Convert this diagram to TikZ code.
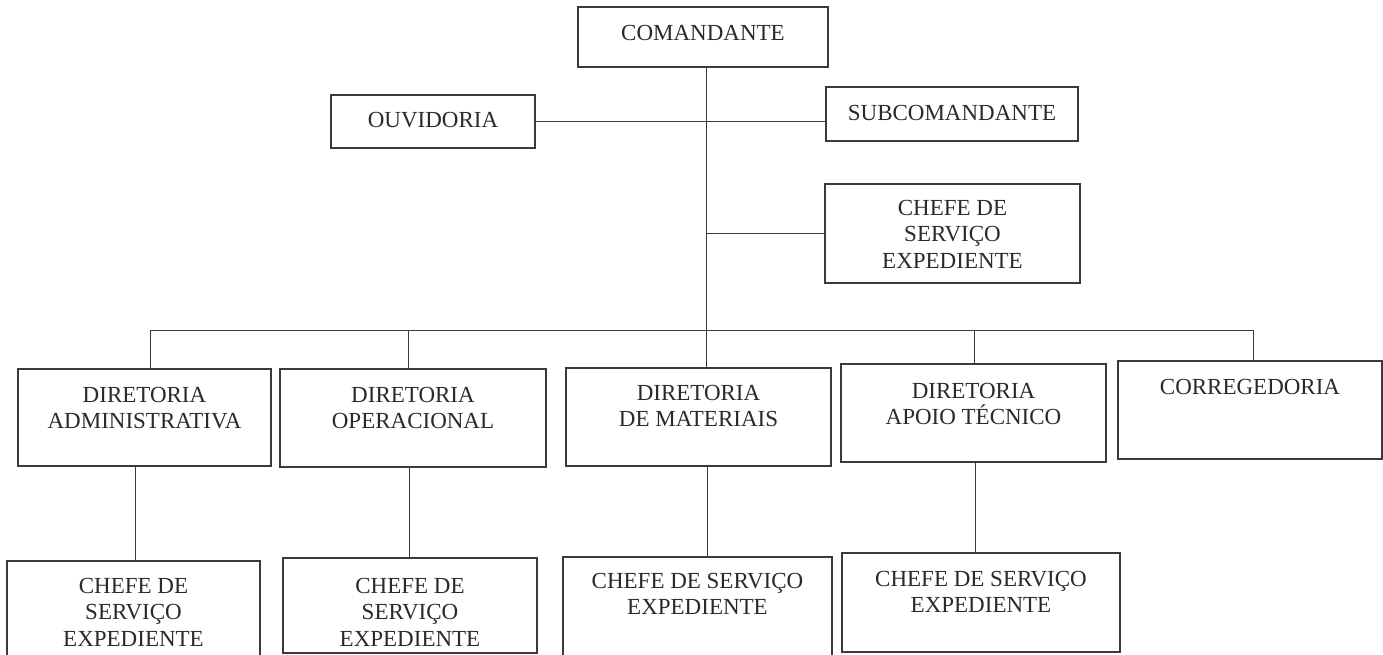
\documentclass[tikz,border=0pt]{standalone}
\usepackage{fontspec}
\setmainfont{Liberation Serif}
\newcommand{\bx}[4]{\parbox[c][#2pt][t]{#1pt}{\vspace*{#3pt}\centering #4\par}}
\definecolor{linec}{HTML}{3A3A3A}
\definecolor{txtc}{HTML}{2A2A2A}
\begin{document}
\begin{tikzpicture}[x=1pt,y=1pt,
  box/.style={draw=linec, line width=1.3pt, inner sep=0pt, outer sep=0pt,
    anchor=north west, text=txtc, font=\fontsize{23}{26.5}\selectfont},
  conn/.style={draw=linec, line width=0.9pt}]
\useasboundingbox (0,0) rectangle (1383,-655);
\clip (0,0) rectangle (1383,-655);
\fill[white] (0,0) rectangle (1383,-655);

% boxes
\node[box] (com) at (578,-7)   {\bx{250}{60}{18}{COMANDANTE}};
\node[box] (ouv) at (331,-95)  {\bx{204}{53}{17}{OUVIDORIA}};
\node[box] (sub) at (826,-87)  {\bx{252}{54}{18}{SUBCOMANDANTE}};
\node[box] (ch0) at (825,-184) {\bx{255}{99}{16}{CHEFE DE\\SERVIÇO\\EXPEDIENTE}};

\node[box] (adm) at (18,-369)   {\bx{253}{97}{18}{DIRETORIA\\ADMINISTRATIVA}};
\node[box] (ope) at (280,-369)  {\bx{266}{98}{18}{DIRETORIA\\OPERACIONAL}};
\node[box] (mat) at (566,-368)  {\bx{265}{98}{17}{DIRETORIA\\DE MATERIAIS}};
\node[box] (apo) at (841,-364)  {\bx{265}{98}{19}{DIRETORIA\\APOIO TÉCNICO}};
\node[box] (cor) at (1118,-361) {\bx{264}{98}{18}{CORREGEDORIA}};

\node[box] (c1) at (7,-561)   {\bx{253}{110}{17}{CHEFE DE\\SERVIÇO\\EXPEDIENTE}};
\node[box] (c2) at (283,-558) {\bx{254}{95}{20}{CHEFE DE\\SERVIÇO\\EXPEDIENTE}};
\node[box] (c3) at (563,-557) {\bx{269}{110}{16}{CHEFE DE SERVIÇO\\EXPEDIENTE}};
\node[box] (c4) at (842,-553) {\bx{278}{99}{18}{CHEFE DE SERVIÇO\\EXPEDIENTE}};

% coordinates for the trunk and bus
\coordinate (tk) at (706,-330);
\coordinate (b1) at (150,-330);
\coordinate (b2) at (408,-330);
\coordinate (b4) at (974,-330);
\coordinate (b5) at (1253,-330);
\coordinate (d1) at (135,-500);
\coordinate (d2) at (409,-500);
\coordinate (d3) at (707,-500);
\coordinate (d4) at (975,-500);

% connectors
\draw[conn] (com.south -| tk) -- (tk |- mat.north);
\draw[conn] (ouv.east) -- (ouv.east -| sub.west);
\draw[conn] (ch0.west) -- (ch0.west -| tk);
\draw[conn] (b1) -- (b5);
\draw[conn] (b1) -- (b1 |- adm.north);
\draw[conn] (b2) -- (b2 |- ope.north);
\draw[conn] (b4) -- (b4 |- apo.north);
\draw[conn] (b5) -- (b5 |- cor.north);
\draw[conn] (adm.south -| d1) -- (d1 |- c1.north);
\draw[conn] (ope.south -| d2) -- (d2 |- c2.north);
\draw[conn] (mat.south -| d3) -- (d3 |- c3.north);
\draw[conn] (apo.south -| d4) -- (d4 |- c4.north);
\end{tikzpicture}
\end{document}
